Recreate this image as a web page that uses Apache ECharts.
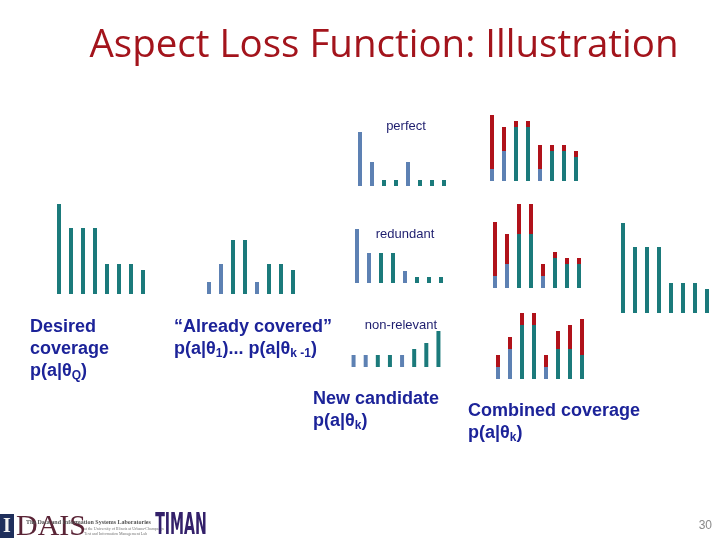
<!DOCTYPE html>
<html>
<head>
<meta charset="utf-8">
<script src="https://cdn.jsdelivr.net/npm/echarts@6/dist/echarts.min.js"></script>
<style>html,body{margin:0;padding:0;background:#fff}#c{width:720px;height:540px}</style>
</head>
<body>
<div id="c"></div>
<script>
// ---- data ----
const aspects = ['a1','a2','a3','a4','a5','a6','a7','a8'];
const desiredCoverage = [7.5, 5.5, 5.5, 5.5, 2.5, 2.5, 2.5, 2];
const alreadyCovered = [1, 2.5, 4.5, 4.5, 1, 2.5, 2.5, 2];
const coveredAspectIdx = [0, 1, 4];           // aspects shown in blue
const candPerfect = [4.5, 2, 0.5, 0.5, 2, 0.5, 0.5, 0.5];
const candRedundant = [4.5, 2.5, 2.5, 2.5, 1, 0.5, 0.5, 0.5];
const candNonRelevant = [1, 1, 1, 1, 1, 1.5, 2, 3];
const combPerfectBase = [1, 2.5, 4.5, 4.5, 1, 2.5, 2.5, 2];
const combRedundantBase = [1, 2, 4.5, 4.5, 1, 2.5, 2, 2];
const combNonRelevantBase = [1, 2.5, 4.5, 4.5, 1, 2.5, 2.5, 2];
const candidateLabels = ['perfect', 'redundant', 'non-relevant'];

// ---- styles ----
const TEAL = '#1B7A7B', BLUE = '#5D81B3', RED = '#B0121A', NAVY = '#1C2399';
const UNIT_MAX = 8;

const panels = [
  {left: 53,  base: 294, kind: 'single', vals: desiredCoverage, allTeal: true},
  {left: 203, base: 294, kind: 'single', vals: alreadyCovered},
  {left: 354, base: 186, kind: 'single', vals: candPerfect},
  {left: 351, base: 283, kind: 'single', vals: candRedundant},
  {left: 347.5, base: 367, kind: 'single', vals: candNonRelevant, w: 97},
  {left: 486, base: 181, kind: 'stack', vals: combPerfectBase, red: candPerfect},
  {left: 489, base: 288, kind: 'stack', vals: combRedundantBase, red: candRedundant},
  {left: 492, base: 379, kind: 'stack', vals: combNonRelevantBase, red: candNonRelevant},
  {left: 617, base: 313, kind: 'single', vals: desiredCoverage, allTeal: true}
];

const grid = [], xAxis = [], yAxis = [], series = [];
panels.forEach((p, i) => {
  const h = UNIT_MAX * 12;
  grid.push({left: p.left, top: p.base - h, width: p.w || 96, height: h, show: false});
  xAxis.push({type: 'category', data: aspects, gridIndex: i, show: false, boundaryGap: true});
  yAxis.push({type: 'value', gridIndex: i, min: 0, max: UNIT_MAX, show: false});
  const colorFn = (idx) => (!p.allTeal && coveredAspectIdx.includes(idx)) ? BLUE : TEAL;
  series.push({
    type: 'bar', xAxisIndex: i, yAxisIndex: i, barWidth: 4,
    stack: p.kind === 'stack' ? 's' + i : undefined,
    data: p.vals.map((v, k) => ({value: v, itemStyle: {color: colorFn(k)}})),
    silent: true
  });
  if (p.kind === 'stack') {
    series.push({
      type: 'bar', xAxisIndex: i, yAxisIndex: i, barWidth: 4, stack: 's' + i,
      data: p.red, itemStyle: {color: RED}, silent: true
    });
  }
});

const bold = 'bold 18px "Liberation Sans", Arial, sans-serif';
const rich = {
  b: {font: bold, fill: NAVY, color: NAVY, lineHeight: 22},
  s: {font: 'bold 12px "Liberation Sans", Arial, sans-serif', color: NAVY, fill: NAVY, verticalAlign: 'bottom', lineHeight: 11}
};
function label(x, y, text) {
  return {type: 'text', x: x, y: y, silent: true,
    style: {text: text, rich: rich, font: bold, fill: NAVY, align: 'left', verticalAlign: 'middle'}};
}
const small = '13px "Liberation Sans", Arial, sans-serif';

const graphic = [
  {type: 'text', x: 384, y: 46, silent: true,
   style: {text: 'Aspect Loss Function: Illustration', font: '38.5px "Open Sans", "Noto Sans", sans-serif', fill: '#A3141C', align: 'center', verticalAlign: 'middle'}},
  {type: 'text', x: 406, y: 126, silent: true, style: {text: candidateLabels[0], font: small, fill: '#1E1E6E', align: 'center', verticalAlign: 'middle'}},
  {type: 'text', x: 405, y: 234, silent: true, style: {text: candidateLabels[1], font: small, fill: '#1E1E6E', align: 'center', verticalAlign: 'middle'}},
  {type: 'text', x: 401, y: 325, silent: true, style: {text: candidateLabels[2], font: small, fill: '#1E1E6E', align: 'center', verticalAlign: 'middle'}},
  label(30, 327, '{b|Desired}'),
  label(30, 349, '{b|coverage}'),
  label(30, 371, '{b|p(a|θ}{s|Q}{b|)}'),
  label(174, 327, '{b|“Already covered”}'),
  label(174, 349, '{b|p(a|θ}{s|1}{b|)... p(a|θ}{s|k -1}{b|)}'),
  label(313, 399, '{b|New candidate}'),
  label(313, 421, '{b|p(a|θ}{s|k}{b|)}'),
  label(468, 411, '{b|Combined coverage}'),
  label(468, 433, '{b|p(a|θ}{s|k}{b|)}'),
  {type: 'text', x: 712, y: 526, silent: true, style: {text: '30', font: '12px "Liberation Sans", Arial, sans-serif', fill: '#8A8A8A', align: 'right', verticalAlign: 'middle'}},
  // logos (approximated as text)
  {type: 'rect', shape: {x: 0, y: 514, width: 14, height: 24}, style: {fill: '#1F2F5C'}, silent: true},
  {type: 'text', x: 7, y: 527, silent: true, style: {text: 'I', font: 'bold 20px "Liberation Serif", serif', fill: '#F3F3F3', align: 'center', verticalAlign: 'middle'}},
  {type: 'text', x: 16, y: 527, silent: true, style: {text: 'DAIS', font: '30px "Liberation Serif", serif', fill: '#5A2436', align: 'left', verticalAlign: 'middle'}},
  {type: 'text', x: 26, y: 522, silent: true, style: {text: 'The Data and Information Systems Laboratories', font: 'bold 6px "Liberation Serif", serif', fill: '#555', align: 'left', verticalAlign: 'middle'}},
  {type: 'text', x: 84, y: 529, silent: true, style: {text: 'at the University of Illinois at Urbana-Champaign', font: '4px "Liberation Serif", serif', fill: '#777', align: 'left', verticalAlign: 'middle'}},
  {type: 'text', x: 84, y: 534, silent: true, style: {text: 'Text and Information Management Lab', font: '4px "Liberation Serif", serif', fill: '#777', align: 'left', verticalAlign: 'middle'}},
  {type: 'text', x: 181, y: 526, scaleX: 0.47, silent: true, style: {text: 'TIMAN', font: 'bold 30px "DejaVu Sans", sans-serif', fill: '#33206A', align: 'center', verticalAlign: 'middle'}}
];

const chart = echarts.init(document.getElementById('c'), null, {renderer: 'canvas'});
chart.setOption({animation: false, backgroundColor: '#fff', grid, xAxis, yAxis, series, graphic});
</script>
</body>
</html>
